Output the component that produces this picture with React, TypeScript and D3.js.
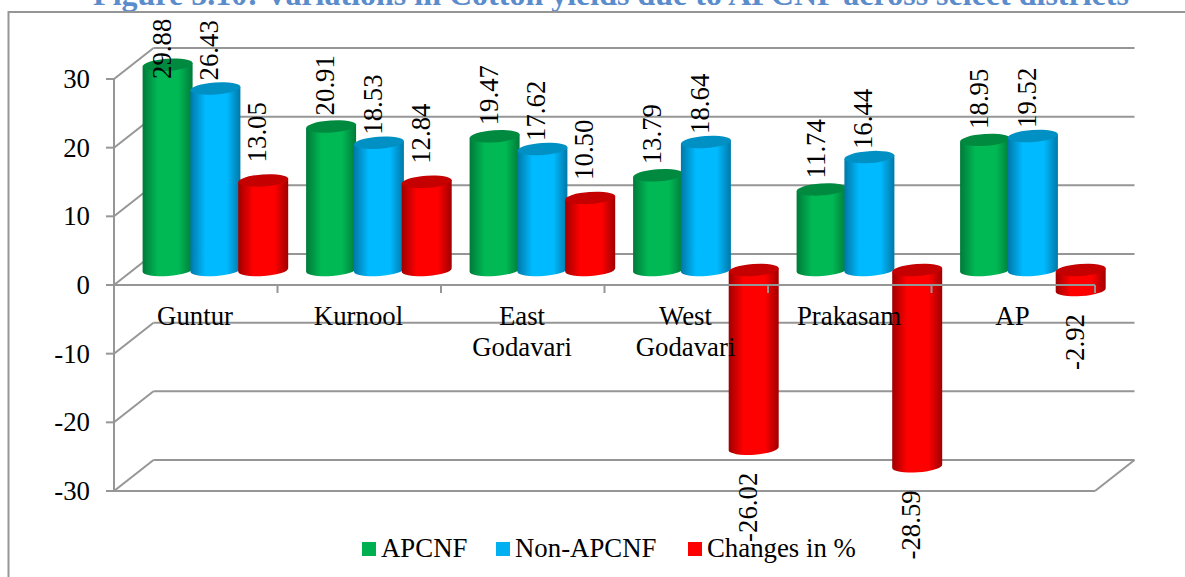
import React from "react";
import * as d3 from "d3";

const title = "Figure 5.10: Variations in Cotton yields due to APCNF across select districts";
const categories = [["Guntur"], ["Kurnool"], ["East", "Godavari"], ["West", "Godavari"], ["Prakasam"], ["AP"]];
const apcnf = [29.88, 20.91, 19.47, 13.79, 11.74, 18.95];
const nonApcnf = [26.43, 18.53, 17.62, 18.64, 16.44, 19.52];
const changes = [13.05, 12.84, 10.5, -26.02, -28.59, -2.92];
const yTicks = [30, 20, 10, 0, -10, -20, -30];
const seriesNames = ["APCNF", "Non-APCNF", "Changes in %"];
const seriesColors = ["#00b854", "#00baff", "#ff0000"];
const legendColors = ["#00b050", "#00b0f0", "#ff0000"];
const seriesDark = ["#007a3a", "#0078a8", "#a00000"];
const seriesTop = ["#008a40", "#0090c4", "#c40000"];
const series = [apcnf, nonApcnf, changes];

const FONT = "'Liberation Serif', 'Times New Roman', serif";
const GRID = "#969696";
const W = 1185, H = 577;
const DX = 39.5, DY = -31;
const FS = 26.8;
const y = d3.scaleLinear().domain([-30, 30]).range([491, 79]);
const x = d3.scaleLinear().domain([0, 6]).range([114, 1095]);
const BAR_STEP = 47.8, BAR_W = 50, RY = 6, TILT = 1.8;
const barBaseShift = 15;
const labelGap = [11, 8, 18];

function ellipsePath(cx: number, cy: number) {
  return `M${cx - BAR_W / 2},${cy + TILT} A${BAR_W / 2},${RY} -4 0 1 ${cx + BAR_W / 2},${cy - TILT} A${BAR_W / 2},${RY} -4 0 1 ${cx - BAR_W / 2},${cy + TILT}Z`;
}
function cylinderPath(cx: number, yA: number, yB: number) {
  const t = Math.min(yA, yB), b = Math.max(yA, yB);
  return `M${cx - BAR_W / 2},${t + TILT} L${cx - BAR_W / 2},${b + TILT} A${BAR_W / 2},${RY} -4 0 0 ${cx + BAR_W / 2},${b - TILT} L${cx + BAR_W / 2},${t - TILT}Z`;
}

export default function App() {
  const line = (x1: number, y1: number, x2: number, y2: number, key: string) => (
    <line key={key} x1={x1} y1={y1} x2={x2} y2={y2} stroke={GRID} strokeWidth={2} />
  );
  const zero = y(0);
  const base = zero - barBaseShift;
  const scaleU = y(0) - y(1);
  const barY = (v: number) => base - v * scaleU;
  const cx = (g: number, s: number) => x(g) + 28.6 + BAR_W / 2 + s * BAR_STEP;

  const bars: React.ReactNode[] = [];
  categories.forEach((_, g) => {
    series.forEach((vals, s) => {
      const v = vals[g];
      const c = cx(g, s);
      const top = barY(Math.max(v, 0));
      const bot = barY(Math.min(v, 0));
      bars.push(
        <g key={`b${g}-${s}`}>
          <path d={cylinderPath(c, top, bot)} fill={`url(#grad${s})`} />
          <path d={ellipsePath(c, top)} fill={seriesTop[s]} />
        </g>
      );
    });
  });

  const labels: React.ReactNode[] = [];
  categories.forEach((_, g) => {
    series.forEach((vals, s) => {
      const v = vals[g];
      const yy = v >= 0 ? Math.max(barY(v) - labelGap[s], 79) : barY(v) + 24;
      labels.push(
        <text key={`l${g}-${s}`} transform={`translate(${cx(g, s) + 3},${yy}) rotate(-90)`}
          textAnchor={v >= 0 ? "start" : "end"} fontSize={FS}>
          {v.toFixed(2)}
        </text>
      );
    });
  });

  const legendX = [362, 496, 688];
  return (
    <svg width={W} height={H} viewBox={`0 0 ${W} ${H}`}
      style={{ position: "absolute", left: 0, top: 0, background: "#fff" }} fontFamily={FONT} fill="#000">
      <defs>
        {seriesColors.map((col, i) => (
          <linearGradient key={i} id={`grad${i}`} x1="0" x2="1" y1="0" y2="0">
            <stop offset="0" stopColor={seriesDark[i]} />
            <stop offset="0.3" stopColor={col} />
            <stop offset="0.72" stopColor={col} />
            <stop offset="1" stopColor={seriesDark[i]} />
          </linearGradient>
        ))}
      </defs>
      <text x={611} y={5} textAnchor="middle" fontSize={32} fontWeight="bold" fill="#5b8ccb">{title}</text>
      <polyline points={`8.5,577 8.5,12 1185,12`} fill="none" stroke={GRID} strokeWidth={2} />

      {yTicks.map(t => (
        <g key={t}>
          {line(x(0) - 8, y(t), x(0), y(t), `tk${t}`)}
          {line(x(0), y(t), x(0) + DX, y(t) + DY, `sd${t}`)}
          {line(x(0) + DX, y(t) + DY, x(6) + DX, y(t) + DY, `bk${t}`)}
        </g>
      ))}
      {line(x(0), y(30), x(0), y(-30), "yax")}
      {line(x(0), y(-30), x(6), y(-30), "floor")}
      {line(x(6), y(-30), x(6) + DX, y(-30) + DY, "floorR")}
      {bars}
      {line(x(0), zero, x(6), zero, "zero")}
      {d3.range(0, 7).map(i => line(x(i), zero, x(i), zero + 8, `xt${i}`))}

      {yTicks.map(t => (
        <text key={t} x={90} y={y(t) + 9} textAnchor="end" fontSize={FS}>{t}</text>
      ))}
      {categories.map((c, g) => (
        <text key={g} textAnchor="middle" fontSize={FS}>
          {c.map((ln, i) => (
            <tspan key={i} x={x(g) + 81} y={325 + i * 31}>{ln}</tspan>
          ))}
        </text>
      ))}
      {labels}
      {seriesNames.map((n, i) => (
        <g key={n}>
          <rect x={legendX[i]} y={542} width={14} height={14} fill={legendColors[i]} />
          <text x={legendX[i] + 19} y={557} fontSize={FS}>{n}</text>
        </g>
      ))}
    </svg>
  );
}
